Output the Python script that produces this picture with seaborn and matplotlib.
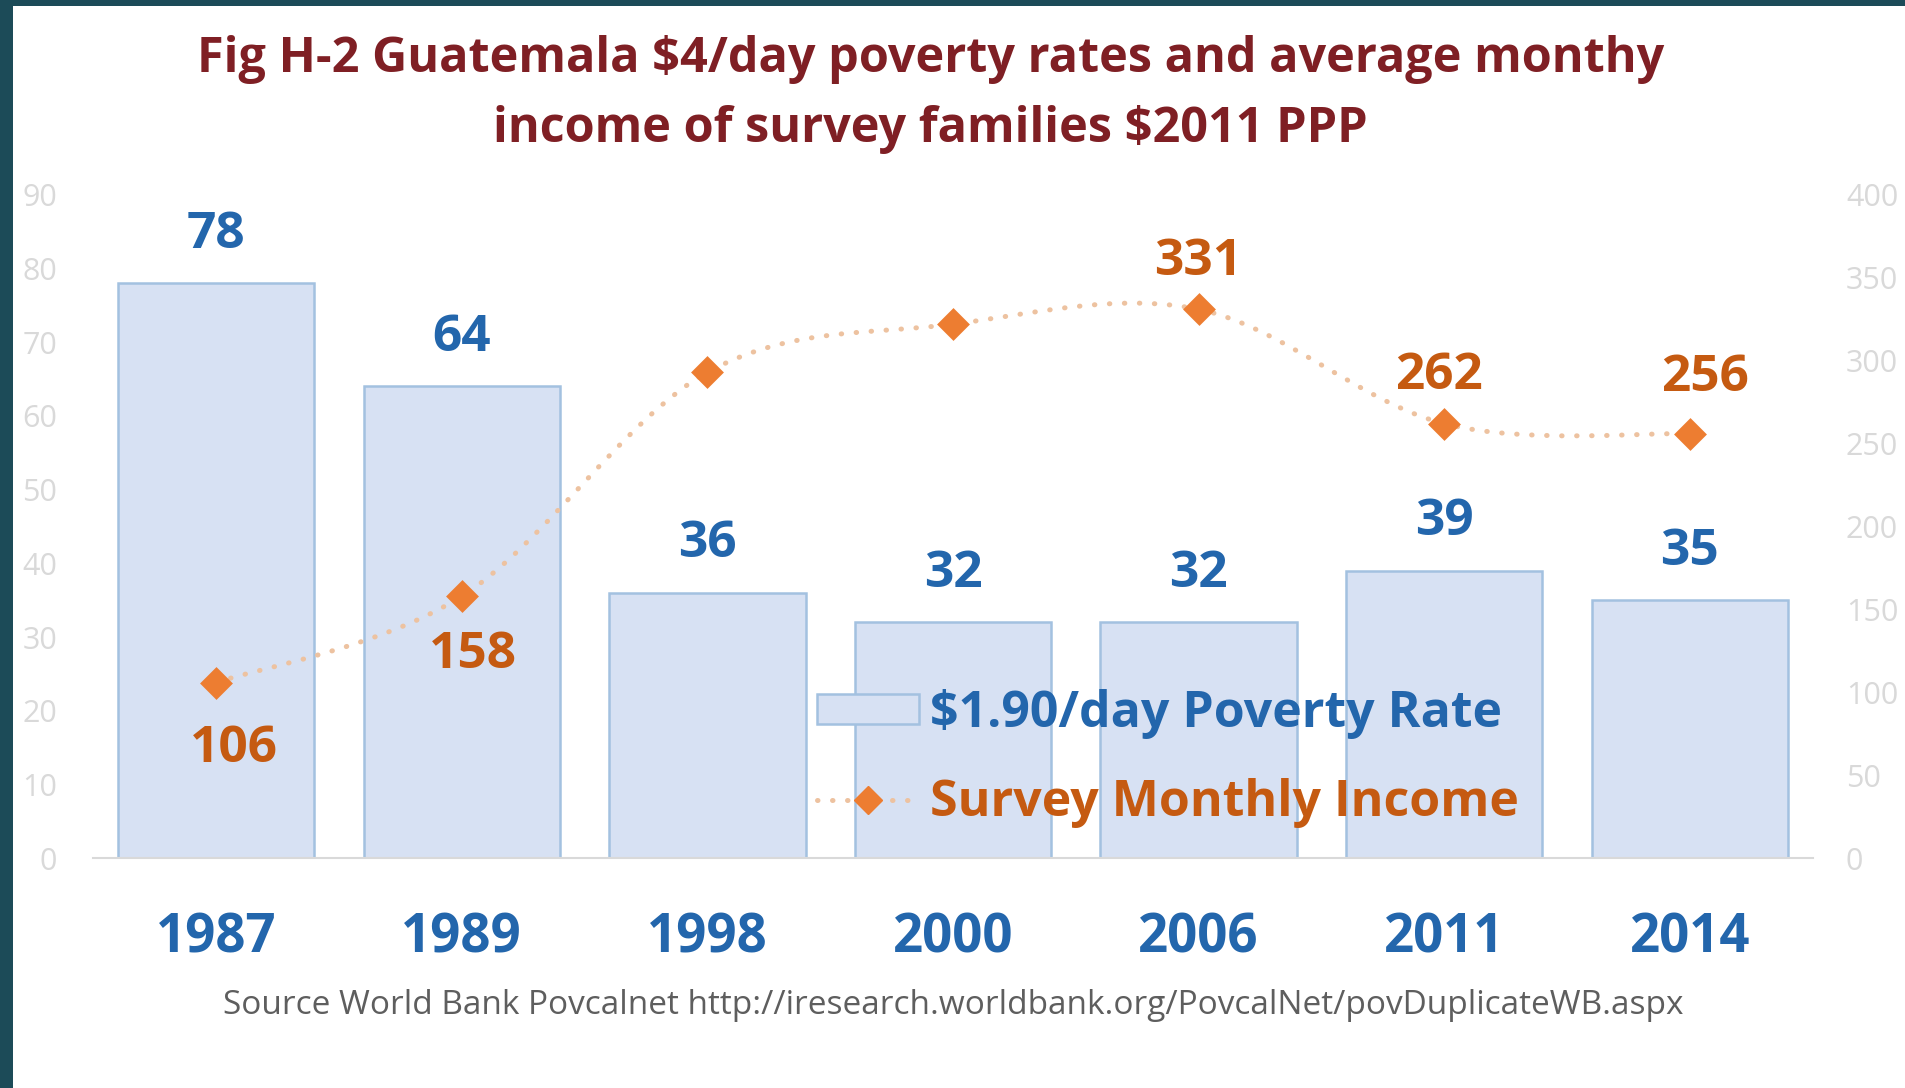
import numpy as np
import matplotlib
matplotlib.use("Agg")
import matplotlib.pyplot as plt
from matplotlib.patches import Rectangle, Patch, PathPatch
from matplotlib.path import Path
from matplotlib.lines import Line2D
import seaborn as sns

# data
years = ["1987", "1989", "1998", "2000", "2006", "2011", "2014"]
poverty_rate = [78, 64, 36, 32, 32, 39, 35]
monthly_income = [106, 158, 293, 322, 331, 262, 256]
income_labelled = [True, True, False, False, True, True, True]

# label offsets (points) for the income labels
income_offsets = [(13, -48), (8, -42), (0, 0), (0, 0), (0, 34), (-4, 34), (11, 40)]

BAR_FILL = "#D7E1F3"
BAR_EDGE = "#A3C1E0"
BLUE_TXT = "#2366AC"
ORANGE = "#ED7D31"
ORANGE_TXT = "#C55A11"
DOTS = "#EDC2A0"
AXIS_GREY = "#D9D9D9"

sns.set_style("white")
plt.rcParams["font.family"] = ["Open Sans", "DejaVu Sans"]

fig = plt.figure(figsize=(19.06, 10.88), dpi=100)
fig.patch.set_facecolor("#1C4B58")
fig.add_artist(Rectangle((13 / 1906, 0), 1, 1 - 6 / 1088, transform=fig.transFigure,
                         facecolor="white", edgecolor="none", zorder=-1))

ax = fig.add_axes([0.049, 0.211, 0.902, 0.610])
ax.set_facecolor("none")
sns.barplot(x=years, y=poverty_rate, color=BAR_FILL, saturation=1, width=0.8,
            edgecolor=BAR_EDGE, linewidth=1.8, ax=ax)
ax.set_xlim(-0.5, len(years) - 0.5)
ax.set_ylim(0, 90)
ax.set_yticks(range(0, 91, 10))
ax.set_xlabel("")
ax.set_ylabel("")
for s in ["top", "right", "left"]:
    ax.spines[s].set_visible(False)
ax.spines["bottom"].set_color(AXIS_GREY)
ax.spines["bottom"].set_linewidth(1.5)
ax.tick_params(axis="y", length=0, labelsize=22, labelcolor=AXIS_GREY, pad=26)
ax.tick_params(axis="x", length=0, labelsize=38, labelcolor=BLUE_TXT, pad=38)
for t in ax.get_xticklabels():
    t.set_fontweight("bold")

for i, v in enumerate(poverty_rate):
    ax.annotate(str(v), (i, v), xytext=(0, 35), textcoords="offset points",
                ha="center", va="center", fontsize=37, fontweight="bold", color=BLUE_TXT)

# income on the right axis
ax2 = ax.twinx()
ax2.set_ylim(0, 400)
ax2.set_yticks(range(0, 401, 50))
for s in ["top", "right", "left", "bottom"]:
    ax2.spines[s].set_visible(False)
ax2.tick_params(axis="y", length=0, labelsize=22, labelcolor=AXIS_GREY, pad=24)

# smoothed dotted line (Catmull-Rom bezier through the points)
xs = np.arange(len(years), dtype=float)
pts = np.column_stack([xs, np.array(monthly_income, dtype=float)])
ext = np.vstack([pts[0], pts, pts[-1]])
verts = [tuple(pts[0])]
codes = [Path.MOVETO]
for k in range(len(pts) - 1):
    p0, p1, p2, p3 = ext[k], ext[k + 1], ext[k + 2], ext[k + 3]
    c1 = p1 + (p2 - p0) / 6
    c2 = p2 - (p3 - p1) / 6
    verts += [tuple(c1), tuple(c2), tuple(p2)]
    codes += [Path.CURVE4] * 3
curve = PathPatch(Path(verts, codes), facecolor="none", edgecolor=DOTS, lw=3.6,
                  linestyle=(0, (0.1, 2.9)), capstyle="round", zorder=2)
ax2.add_patch(curve)

sns.scatterplot(x=xs, y=monthly_income, marker="D", s=280, color=ORANGE,
                edgecolor=ORANGE, linewidth=0, zorder=3, ax=ax2, legend=False)

for i, v in enumerate(monthly_income):
    if income_labelled[i]:
        ax2.annotate(str(v), (i, v), xytext=income_offsets[i], textcoords="offset points",
                     ha="center", va="center", fontsize=37, fontweight="bold",
                     color=ORANGE_TXT)

# legend
handles = [
    Patch(facecolor=BAR_FILL, edgecolor=BAR_EDGE, linewidth=1.8),
    Line2D([0], [0], color=DOTS, lw=3.6, linestyle=(0, (0.1, 2.9)),
           dash_capstyle="round", marker="D", markersize=14,
           markerfacecolor=ORANGE, markeredgecolor=ORANGE),
]
leg = fig.legend(handles, ["\\$1.90/day Poverty Rate", "Survey Monthly Income"],
                 loc="upper left", bbox_to_anchor=(0.405, 0.408), frameon=False,
                 prop={"size": 36, "weight": "bold"}, handlelength=2.05,
                 handleheight=0.55, handletextpad=0.22, labelspacing=0.78)
for txt, c in zip(leg.get_texts(), [BLUE_TXT, ORANGE_TXT]):
    txt.set_color(c)

# title and source
fig.text(0.488, 1 - 60 / 1088, "Fig H-2 Guatemala \\$4/day poverty rates and average monthy",
         ha="center", va="center", fontsize=35, fontweight="bold", color="#7F1F24")
fig.text(0.488, 1 - 130 / 1088, "income of survey families \\$2011 PPP",
         ha="center", va="center", fontsize=35, fontweight="bold", color="#7F1F24")
fig.text(0.5, 1 - 1005 / 1088,
         "Source World Bank Povcalnet http://iresearch.worldbank.org/PovcalNet/povDuplicateWB.aspx",
         ha="center", va="center", fontsize=24, color="#5E5E5E")

fig.savefig("out.png", dpi=100, facecolor=fig.get_facecolor())
